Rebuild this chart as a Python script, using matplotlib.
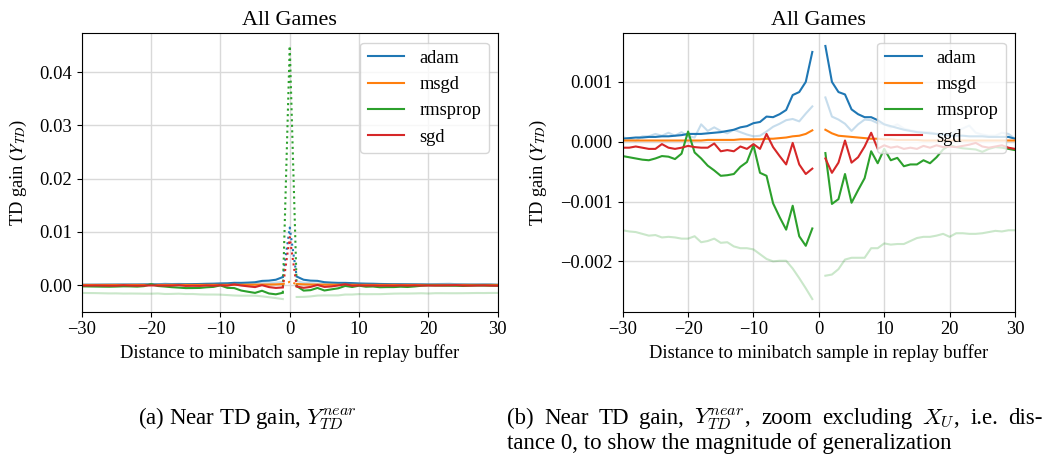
import numpy as np
import matplotlib
matplotlib.use("Agg")
from matplotlib import pyplot as plt

plt.rcParams['font.family'] = 'serif'
plt.rcParams['font.serif'] = ['Liberation Serif', 'DejaVu Serif']
plt.rcParams['mathtext.fontset'] = 'stix'
plt.rcParams['font.size'] = 13.3

# distances to the minibatch sample (categories)
dist_left = np.arange(-30, 0)
dist_right = np.arange(1, 31)

names = ['adam', 'msgd', 'rmsprop', 'sgd']
colors = ['tab:blue', 'tab:orange', 'tab:green', 'tab:red']

# values at distance 0 (X_U)
center = [0.0108, 0.0006, 0.0449, 0.0090]

adam_left = [0.00005, 0.00006, 0.00007, 0.00007, 0.00008, 0.00008, 0.00009, 0.00009, 0.0001, 0.00011,
             0.00013, 0.00013, 0.00013, 0.00014, 0.00015, 0.00016, 0.00018, 0.0002, 0.00024, 0.00026,
             0.00031, 0.00033, 0.00042, 0.00041, 0.00046, 0.00053, 0.00078, 0.00083, 0.001, 0.0015]
adam_right = [0.0016, 0.001, 0.00083, 0.00079, 0.00054, 0.00046, 0.00041, 0.00041, 0.00036, 0.00029,
              0.00026, 0.00023, 0.0002, 0.00018, 0.00016, 0.00015, 0.00014, 0.00013, 0.00012, 0.0001,
              0.0001, 0.0001, 0.00009, 0.00009, 0.00009, 0.00008, 0.00008, 0.00008, 0.00008, 0.00005]

msgd_left = [0.00002] * 10 + \
            [0.00002, 0.00002, 0.00002, 0.00003, 0.00003, 0.00003, 0.00003, 0.00003, 0.00004, 0.00004,
             0.00004, 0.00004, 0.00005, 0.00005, 0.00006, 0.00007, 0.00009, 0.0001, 0.00013, 0.00019]
msgd_right = [0.0002, 0.00014, 0.0001, 0.00009, 0.00008, 0.00007, 0.00006, 0.00005, 0.00005, 0.00004,
              0.00004, 0.00003, 0.00003, 0.00003, 0.00003, 0.00002, 0.00002, 0.00002, 0.00002, 0.00002] + \
             [0.00002] * 10

rmsprop_left = [-0.00024, -0.00026, -0.00028, -0.0003, -0.00031, -0.00028, -0.00024, -0.00025, -0.00029, -0.0002,
                0.00017, -0.00018, -0.00028, -0.0004, -0.00048, -0.00057, -0.00056, -0.00054, -0.00042, -0.00034,
                -0.00006, -0.00052, -0.00057, -0.00103, -0.00126, -0.00147, -0.00107, -0.00158, -0.00174, -0.00145]
rmsprop_right = [-0.00019, -0.00104, -0.00096, -0.00054, -0.00102, -0.00081, -0.00061, -0.00016, -0.00036, -0.00012,
                 -0.00031, -0.00027, -0.00041, -0.00038, -0.00038, -0.00031, -0.00036, -0.00026, -0.00013, -0.00006,
                 -0.00009, -0.00011, -0.00012, -0.00013, -0.00017, -0.00012, -0.00009, -0.0001, -0.00012, -0.00014]

sgd_left = [-0.0001, -0.0001, -0.00008, -0.0001, -0.00012, -0.00012, -0.00004, -0.0001, -0.00012, -0.0001,
            -0.00007, -0.00009, -0.0001, -0.0001, -0.00003, -0.00016, -0.00014, -0.00016, -0.00008, -0.00012,
            -0.00004, -0.00012, 0.00013, -0.00009, -0.00024, -0.00038, -0.00002, -0.00038, -0.00054, -0.00045]
sgd_right = [-0.00028, -0.00052, -0.00035, 0.00002, -0.00035, -0.00026, -0.00008, 0.00015, -0.00012, -0.00006,
             -0.0001, -0.00008, -0.00012, -0.0001, -0.00012, -0.00007, -0.0001, -0.00006, -0.00009, -0.00008,
             -0.00009, -0.00007, -0.00005, -0.00002, -0.00008, -0.0001, -0.00008, -0.00006, -0.0001, -0.00012]

# faint companion curves
adam_light_left = [0.00008, 0.00004, 0.00002, 0.00009, 0.00009, 0.00013, 0.0001, 0.00015, 0.0001, 0.00016,
                   0.00009, 0.00007, 0.00029, 0.00018, 0.00024, 0.00018, 0.00014, 0.0002, 0.00016, 0.00012,
                   0.00009, 0.0001, 0.00017, 0.00025, 0.0003, 0.00036, 0.00038, 0.00034, 0.00047, 0.00059]
adam_light_right = [0.00074, 0.00042, 0.00037, 0.0003, 0.00018, 0.00029, 0.00037, 0.00036, 0.00031, 0.00029,
                    0.00024, 0.00029, 0.00022, 0.00019, 0.00017, 0.00016, 0.00016, 0.00013, 0.00014, 0.00012,
                    0.00018, 0.00022, 0.00027, 0.00015, 0.00012, 0.0001, 0.0001, 0.00015, 0.00013, 0.00005]
rmsprop_light_left = [-0.00148, -0.0015, -0.00151, -0.00154, -0.00157, -0.00156, -0.0016, -0.00159, -0.0016, -0.00162,
                      -0.00162, -0.00158, -0.00168, -0.00166, -0.00162, -0.00169, -0.00168, -0.00175, -0.00178, -0.00178,
                      -0.0018, -0.00188, -0.00196, -0.002, -0.00199, -0.00199, -0.00212, -0.00228, -0.00245, -0.00263]
rmsprop_light_right = [-0.00224, -0.00222, -0.00213, -0.00197, -0.00194, -0.00194, -0.00194, -0.00178, -0.00178, -0.0017,
                       -0.00172, -0.00171, -0.00171, -0.00166, -0.00161, -0.00159, -0.00159, -0.00157, -0.00154, -0.00159,
                       -0.00153, -0.00153, -0.00154, -0.00154, -0.00153, -0.00151, -0.00149, -0.0015, -0.00148, -0.00148]

series_left = [adam_left, msgd_left, rmsprop_left, sgd_left]
series_right = [adam_right, msgd_right, rmsprop_right, sgd_right]
light = [(0, adam_light_left, adam_light_right), (2, rmsprop_light_left, rmsprop_light_right)]

W, H = 1049, 454
fig = plt.figure(figsize=(W / 100, H / 100), dpi=100)
ax1 = fig.add_axes([0.0779, 0.3134, 0.3966, 0.6132])
ax2 = fig.add_axes([0.5936, 0.3134, 0.374, 0.6132])

for ax, with_center in [(ax1, True), (ax2, False)]:
    for i, l_left, l_right in light:
        ax.plot(dist_left, l_left, color=colors[i], alpha=0.25)
        ax.plot(dist_right, l_right, color=colors[i], alpha=0.25)
    for i in range(4):
        ax.plot(dist_left, series_left[i], color=colors[i], label=names[i])
        ax.plot(dist_right, series_right[i], color=colors[i])
        if with_center:
            ax.plot([-1, 0, 1], [series_left[i][-1], center[i], series_right[i][0]],
                    color=colors[i], linestyle=':')
    ax.set_xlim(-30, 30)
    ax.set_xticks([-30, -20, -10, 0, 10, 20, 30])
    ax.grid(True, color='0.85', linewidth=1)
    ax.set_axisbelow(True)
    ax.set_title('All Games')
    ax.set_xlabel('Distance to minibatch sample in replay buffer')
    ax.legend(loc='upper right')

ax1.set_ylabel('TD gain ($Y_{TD}$)', labelpad=7)
ax2.set_ylabel('TD gain ($Y_{TD}$)', labelpad=8)
ax1.set_yticks([0, 0.01, 0.02, 0.03, 0.04])
ax2.set_yticks([-0.002, -0.001, 0, 0.001])
ax2.set_yticklabels(['\u22120.002', '\u22120.001', '0.000', '0.001'])

# captions
cap_size = 16.5
fig.text(247 / W, 1 - 424 / H, '(a) Near TD gain, $Y_{TD}^{near}$', ha='center', va='baseline',
         fontsize=cap_size, math_fontfamily='cm')

# first line of (b) is justified between two edges
words = ['(b)', 'Near', 'TD', 'gain,', '$Y_{TD}^{near}$,', 'zoom', 'excluding', '$X_U$,', 'i.e.', 'dis-']
x0, x1 = 507, 1043
fig.canvas.draw()
r = fig.canvas.get_renderer()
txts = [fig.text(0, 1 - 424 / H, w, ha='left', va='baseline', fontsize=cap_size, math_fontfamily='cm')
        for w in words]
widths = [t.get_window_extent(r).width for t in txts]
gap = (x1 - x0 - sum(widths)) / (len(words) - 1)
x = x0
for t, w in zip(txts, widths):
    t.set_x(x / W)
    x += w + gap

fig.text(x0 / W, 1 - 449 / H, 'tance 0, to show the magnitude of generalization',
         ha='left', va='baseline', fontsize=cap_size)

fig.savefig('out.png', dpi=100)
